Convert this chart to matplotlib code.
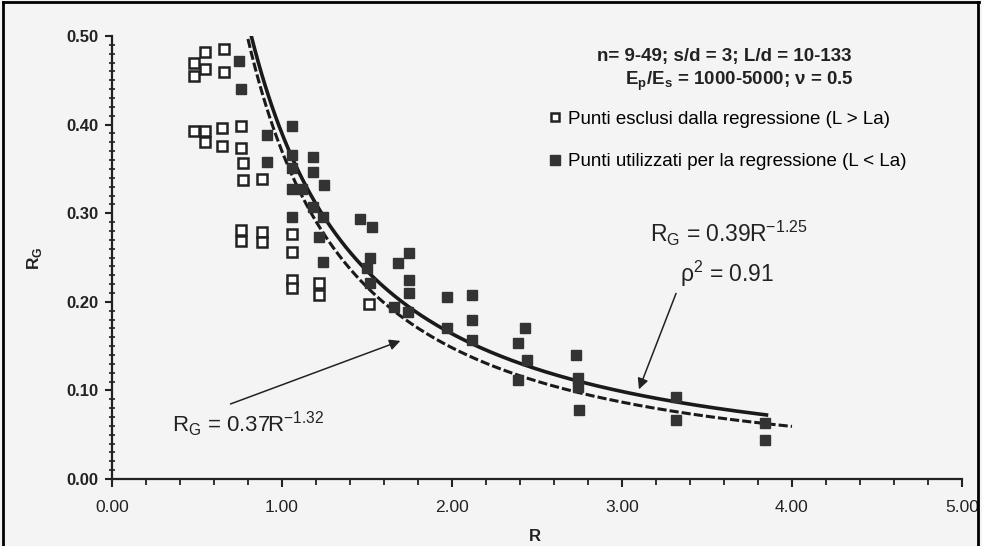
import numpy as np
import matplotlib
matplotlib.use("Agg")
import matplotlib.pyplot as plt
from matplotlib.lines import Line2D
from matplotlib.ticker import MultipleLocator, FormatStrFormatter

plt.rcParams['font.family'] = ['Liberation Sans', 'DejaVu Sans']
plt.rcParams['mathtext.fontset'] = 'custom'
plt.rcParams['mathtext.rm'] = 'Liberation Sans'

# punti esclusi dalla regressione (L > La)
excl_R = [0.55, 0.66, 0.48, 0.55, 0.48, 0.66,
          0.48, 0.55, 0.55, 0.65, 0.76, 0.65, 0.76, 0.77, 0.77, 0.88,
          0.76, 0.76, 0.88, 0.88,
          1.06, 1.06, 1.06, 1.06, 1.22, 1.22, 1.51]
excl_RG = [0.482, 0.485, 0.470, 0.463, 0.455, 0.459,
           0.393, 0.393, 0.380, 0.396, 0.399, 0.376, 0.374, 0.357, 0.338, 0.339,
           0.281, 0.269, 0.279, 0.268,
           0.276, 0.256, 0.225, 0.216, 0.221, 0.208, 0.197]

# punti utilizzati per la regressione (L < La)
used_R = [0.75, 0.76, 0.91, 0.91,
          1.06, 1.06, 1.18, 1.06, 1.18, 1.06, 1.12, 1.25, 1.18, 1.24, 1.06, 1.22, 1.24,
          1.46, 1.53, 1.52, 1.50, 1.52, 1.68, 1.66,
          1.75, 1.75, 1.75, 1.74, 1.97, 2.12, 2.12, 1.97, 2.12,
          2.43, 2.39, 2.44, 2.39,
          2.73, 2.74, 2.74, 2.75,
          3.32, 3.32, 3.84, 3.84]
used_RG = [0.472, 0.440, 0.388, 0.358,
           0.398, 0.366, 0.363, 0.351, 0.346, 0.327, 0.327, 0.332, 0.307, 0.296, 0.296, 0.273, 0.245,
           0.293, 0.285, 0.250, 0.238, 0.221, 0.244, 0.194,
           0.255, 0.225, 0.210, 0.188, 0.206, 0.208, 0.180, 0.171, 0.157,
           0.171, 0.154, 0.134, 0.112,
           0.140, 0.114, 0.104, 0.078,
           0.093, 0.067, 0.063, 0.044]

# curve di regressione R_G = a * R^b
fit1_a, fit1_b, fit1_range = 0.39, -1.25, (0.82, 3.85)
fit2_a, fit2_b, fit2_range = 0.37, -1.32, (0.80, 4.00)

bg = '#f4f4f4'
ink = '#222222'
fig = plt.figure(figsize=(9.82, 5.46), dpi=100, facecolor=bg)
ax = fig.add_axes([0.114, 0.1227, 0.8656, 0.8113], facecolor=bg)

r1 = np.linspace(fit1_range[0], fit1_range[1], 300)
r2 = np.linspace(fit2_range[0], fit2_range[1], 300)
ax.plot(r1, fit1_a * r1 ** fit1_b, color='#1a1a1a', lw=2.6, zorder=3)
ax.plot(r2, fit2_a * r2 ** fit2_b, color='#1a1a1a', lw=2.2, ls=(0, (3, 1)), zorder=3)

h_open, = ax.plot(excl_R, excl_RG, 's', ms=7, mfc='white', mec=ink, mew=1.8, ls='none', zorder=4)
h_full, = ax.plot(used_R, used_RG, 's', ms=7.5, mfc='#333333', mec='#333333', ls='none', zorder=4)

ax.set_xlim(0, 5)
ax.set_ylim(0, 0.5)
for s in ['top', 'right']:
    ax.spines[s].set_visible(False)
for s in ['left', 'bottom']:
    ax.spines[s].set_linewidth(1.6)
    ax.spines[s].set_color(ink)

ax.xaxis.set_major_locator(MultipleLocator(1.0))
ax.xaxis.set_minor_locator(MultipleLocator(0.2))
ax.yaxis.set_major_locator(MultipleLocator(0.1))
ax.yaxis.set_minor_locator(MultipleLocator(0.01))
ax.xaxis.set_major_formatter(FormatStrFormatter('%.2f'))
ax.yaxis.set_major_formatter(FormatStrFormatter('%.2f'))
ax.tick_params(axis='x', which='major', direction='out', length=6, width=1.5, pad=9, labelsize=12.5, colors=ink)
ax.tick_params(axis='x', which='minor', direction='out', length=4, width=1.3, colors=ink)
ax.tick_params(axis='y', which='major', direction='out', length=5, width=1.5, pad=5, labelsize=12, colors=ink)
ax.tick_params(axis='y', which='minor', direction='inout', length=4, width=1.2, colors=ink)
for t in ax.get_yticklabels():
    t.set_fontweight('bold')

fig.text(35 / 982, 1 - 258 / 546, r'R$_\mathregular{G}$', rotation=90, ha='center', va='center',
         fontsize=12.5, fontweight='bold', color=ink)
fig.text(535 / 982, 2 / 546, 'R', ha='center', va='bottom', fontsize=12, fontweight='bold', color=ink)

ax.text(3.60, 0.472, 'n= 9-49; s/d = 3; L/d = 10-133', ha='center', va='baseline',
        fontsize=13.5, fontweight='bold', color=ink)
ax.text(3.69, 0.445, r'E$_\mathregular{p}$/E$_\mathregular{s}$ = 1000-5000; ν = 0.5', ha='center', va='baseline',
        fontsize=13.5, fontweight='bold', color=ink)

ax.legend([h_open, h_full],
          ['Punti esclusi dalla regressione (L > La)', 'Punti utilizzati per la regressione (L < La)'],
          loc='upper left', bbox_to_anchor=(0.515, 0.831), frameon=False, fontsize=13.5,
          handlelength=0.6, handletextpad=0.35, labelspacing=1.35, borderpad=0, borderaxespad=0,
          markerscale=0.9)

ax.text(3.165, 0.267, r'R$_\mathregular{G}$ = 0.39R$^\mathregular{-1.25}$', fontsize=16.5, va='baseline', color=ink)
ax.text(3.34, 0.222, r'ρ$^\mathregular{2}$ = 0.91', fontsize=16.5, va='baseline', color=ink)
ax.annotate('', xy=(3.094, 0.0983), xytext=(3.324, 0.2124),
            arrowprops=dict(arrowstyle='-|>', color=ink, lw=1.1, mutation_scale=16))

ax.text(0.353, 0.053, r'R$_\mathregular{G}$ = 0.37R$^\mathregular{-1.32}$', fontsize=16, va='baseline', color=ink)
ax.annotate('', xy=(1.712, 0.157), xytext=(0.682, 0.0836),
            arrowprops=dict(arrowstyle='-|>', color=ink, lw=1.1, mutation_scale=16))

# cornice della pagina scansionata
for xs, ys in [([0.003, 0.997], [0.996, 0.996]), ([0.003, 0.003], [0.0, 0.996]), ([0.996, 0.996], [0.0, 0.996])]:
    fig.add_artist(Line2D(xs, ys, transform=fig.transFigure, color='black', lw=2))

fig.savefig('out.png', dpi=100, facecolor=bg)
